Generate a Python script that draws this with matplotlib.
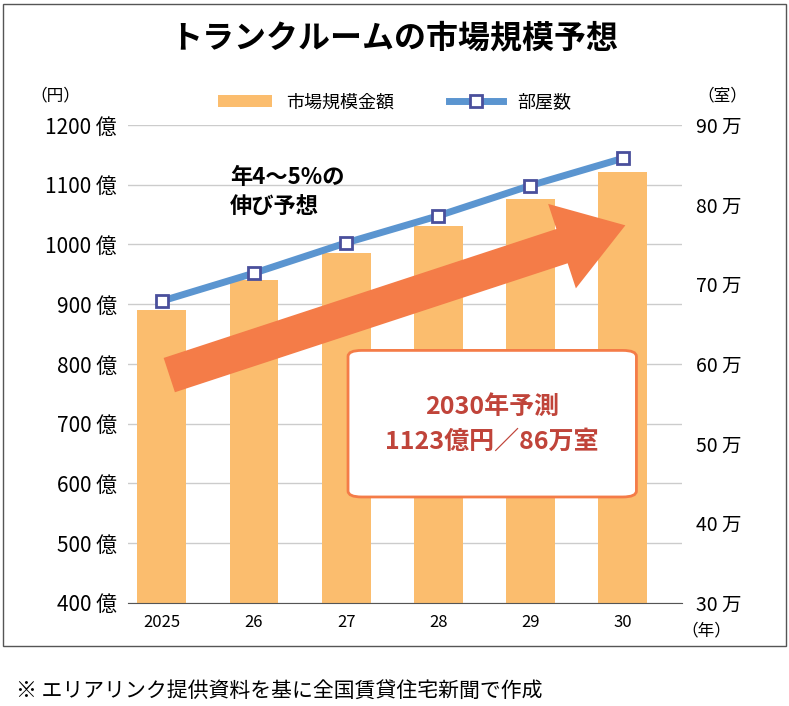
import matplotlib.pyplot as plt
from matplotlib.patches import FancyBboxPatch, Rectangle

plt.rcParams['font.family'] = ['Noto Sans CJK JP', 'DejaVu Sans']

years = ['2025', '26', '27', '28', '29', '30']
market = [891, 940, 985, 1031, 1076, 1122]   # 億円
rooms = [67.9, 71.4, 75.2, 78.6, 82.4, 85.8]  # 万室

fig = plt.figure(figsize=(7.89, 7.06), dpi=100)
fig.patches.append(Rectangle((0.004, 0.085), 0.992, 0.91, transform=fig.transFigure,
                             fill=False, edgecolor='#555555', lw=1))

ax = fig.add_axes([0.162, 0.146, 0.703, 0.677])
ax2 = ax.twinx()
x = range(len(years))
bars = ax.bar(x, market, width=0.53, color='#fbbd6e', label='市場規模金額', zorder=2)
ax.set_ylim(400, 1200)
ax.set_xlim(-0.37, 5.65)
ax.set_yticks(range(400, 1201, 100))
ax.set_yticklabels([f'{v} 億' for v in range(400, 1201, 100)], fontsize=15)
ax.set_xticks(list(x))
ax.set_xticklabels(years, fontsize=12)
ax.grid(axis='y', color='#cccccc', lw=1, zorder=0)
ax.set_axisbelow(True)
for s in ['top', 'right', 'left']:
    ax.spines[s].set_visible(False)
ax.spines['bottom'].set_color('#555555')
ax.tick_params(length=0, pad=8)

line, = ax2.plot(x, rooms, color='#5b95d0', lw=5, marker='s', markersize=8,
                 markerfacecolor='white', markeredgecolor='#4a4f9c', markeredgewidth=2,
                 label='部屋数', zorder=3)
ax2.set_ylim(30, 90)
ax2.set_yticks(range(30, 91, 10))
ax2.set_yticklabels([f'{v} 万' for v in range(30, 91, 10)], fontsize=14)
for s in ['top', 'right', 'left', 'bottom']:
    ax2.spines[s].set_visible(False)
ax2.tick_params(length=0, pad=10)

ax2.annotate('', xy=(5.03, 77.4), xytext=(0.08, 58.6), zorder=4,
             arrowprops=dict(arrowstyle='simple,head_length=2.4,head_width=3.2,tail_width=1.3',
                             mutation_scale=20, color='#f47c48', lw=0,
                             shrinkA=0, shrinkB=0))
ax2.text(0.74, 81.6, '年4～5%の\n伸び予想', fontsize=16, fontweight='bold',
         linespacing=1.3, va='center', zorder=5)
ax2.add_patch(FancyBboxPatch((2.02, 43.3), 3.13, 18.4, boxstyle='round,pad=0,rounding_size=0.15',
                             facecolor='white', edgecolor='#f47c48', lw=2, zorder=6,
                             mutation_aspect=5))
ax2.text(3.585, 52.4, '2030年予測\n1123億円／86万室', fontsize=18, color='#c0443a',
         fontweight='bold', ha='center', va='center', linespacing=1.6, zorder=7)

fig.text(0.5, 0.945, 'トランクルームの市場規模予想', fontsize=23, fontweight='bold',
         ha='center', va='center')
fig.text(0.07, 0.864, '（円）', fontsize=12, ha='center', va='center')
fig.text(0.915, 0.864, '（室）', fontsize=12, ha='center', va='center')
fig.text(0.895, 0.107, '（年）', fontsize=12, ha='center', va='center')
fig.text(0.02, 0.022, '※ エリアリンク提供資料を基に全国賃貸住宅新聞で作成', fontsize=15, va='center')

fig.legend(handles=[bars, line], loc='center', bbox_to_anchor=(0.5, 0.855), ncol=2,
           frameon=False, fontsize=13, columnspacing=3, handlelength=3)

fig.savefig('out.png')
